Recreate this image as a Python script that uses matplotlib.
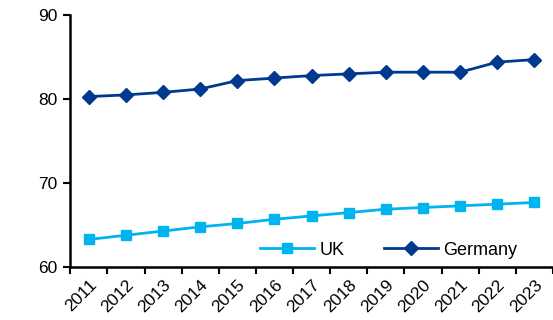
import numpy as np
import matplotlib.pyplot as plt
from matplotlib.ticker import FixedLocator

plt.rcParams['font.family'] = ['Liberation Sans', 'DejaVu Sans']

years = [str(y) for y in range(2011, 2024)]
uk = [63.3, 63.8, 64.3, 64.8, 65.2, 65.7, 66.1, 66.5, 66.9, 67.1, 67.3, 67.5, 67.7]
germany = [80.3, 80.5, 80.8, 81.2, 82.2, 82.5, 82.8, 83.0, 83.2, 83.2, 83.2, 84.4, 84.7]

uk_color = '#00B4EF'
de_color = '#003A8F'

fig = plt.figure(figsize=(5.53, 3.2), dpi=100)
ax = fig.add_axes([0.127, 0.165, 0.873, 0.788])

x = np.arange(len(years))
ax.plot(x, uk, color=uk_color, lw=2, marker='s', ms=7.5, label='UK')
ax.plot(x, germany, color=de_color, lw=2, marker='D', ms=7, label='Germany')

ax.set_ylim(60, 90)
ax.set_yticks([60, 70, 80, 90])
ax.set_xlim(-0.5, len(years) - 0.5)
ax.set_xticks(x)
ax.set_xticklabels(years, rotation=45, ha='right', rotation_mode='anchor')
ax.xaxis.set_minor_locator(FixedLocator(np.arange(-0.5, len(years), 1.0)))
ax.tick_params(axis='x', which='major', length=0, pad=7, labelsize=12.5)
ax.tick_params(axis='x', which='minor', length=5, width=1.5, direction='out')
ax.tick_params(axis='y', length=5, width=1.5, direction='out', labelsize=12.5, pad=4)

for side in ['top', 'right']:
    ax.spines[side].set_visible(False)
for side in ['left', 'bottom']:
    ax.spines[side].set_linewidth(1.8)

ax.legend(ncol=2, frameon=False, loc='center right', bbox_to_anchor=(0.96, 0.068),
          fontsize=13, handlelength=3, columnspacing=2.2, handletextpad=0.3)

fig.savefig('out.png', dpi=100)
